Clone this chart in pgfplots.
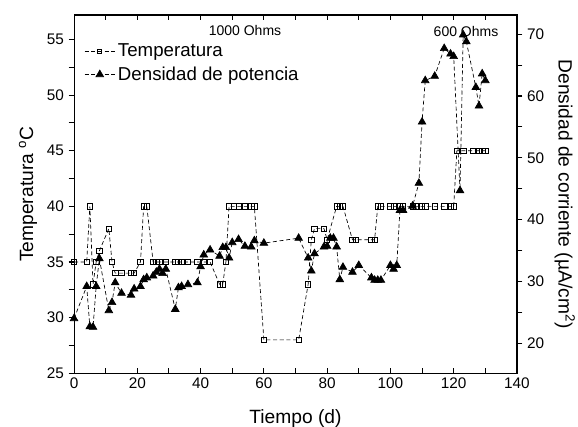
\documentclass[border=0pt]{standalone}
\usepackage{fontspec}
\setmainfont{Liberation Sans}
\usepackage{pgfplots}
\pgfplotsset{compat=1.18}

\pgfplotsset{
  base/.style={
    scale only axis, width=332pt, height=268.5pt,
    xmin=0, xmax=140,
    axis line style={line width=0.8pt},
    every tick/.style={line width=0.8pt, black},
    major tick length=4pt, minor tick length=4pt,
    /pgf/number format/assume math mode=true,
    tick label style={font=\fontsize{11.5}{13}\selectfont},
  },
  temp/.style={black, densely dashed, line width=0.5pt, mark=square,
    mark size=2pt, mark options={solid, fill=white, line width=0.5pt}},
  dens/.style={black, densely dashed, line width=0.5pt, mark=triangle*,
    mark size=3.3pt, mark options={solid, fill=black}},
}

\begin{document}
\begin{tikzpicture}
\useasboundingbox (-55.5pt,-39.75pt) rectangle (377.75pt,279.75pt);

% x ticks (inside, bottom and top)
\begin{axis}[base,
  ymin=25, ymax=57.2, ytick=\empty,
  xtick={0,20,...,140}, minor x tick num=1, tick align=inside,
  xlabel={Tiempo (d)},
  every axis x label/.style={at={(axis description cs:0.5,-0.126)}, anchor=center,
    font=\fontsize{14.4}{16}\selectfont},
]
\end{axis}

% left axis: temperature
\begin{axis}[base,
  ymin=25, ymax=57.2, xtick=\empty,
  ytick={25,30,...,55}, minor y tick num=1,
  ytick pos=left, tick align=outside,
  ylabel={Temperatura \textsuperscript{o}C},
  every axis y label/.style={at={(axis description cs:-0.104,0.5)}, rotate=90, anchor=center,
    font=\fontsize{14.4}{16}\selectfont},
]
\addplot[temp] table {
0 35
4 35
5 40
6 33
7 35
8 36
11 38
12 35
13 34
15 34
18 34
19 34
21 35
22 40
23 40
25 35
26 35
27 35
29 35
32 35
33 35
34 35
36 35
39 35
41 35
43 35
46 33
47 33
48 35
49 40
50.5 40
52 40
54 40
56 40
57 40
60 28
71 28
74 33
75 37
76 38
79 38
80 37
83 40
84 40
85 40
88 37
89 37
94 37
95 37
96 40
97 40
100 40
101 40
103 40
104 40
107 40
108 40
110 40
111 40
114 40
117 40
119 40
120 40
121 45
123 45
126 45
128 45
129 45
130 45
};
\end{axis}

% right axis: current density
\begin{axis}[base,
  ymin=15.15, ymax=73.1, xtick=\empty,
  ytick={20,30,...,70}, minor y tick num=1,
  ytick pos=right, tick align=outside,
  ylabel={Densidad de corriente (µA/cm\textsuperscript{2})},
  every axis y label/.style={at={(axis description cs:1.108,0.5)}, rotate=-90, anchor=center,
    font=\fontsize{14.4}{16}\selectfont},
  legend style={draw=none, fill=none, at={(axis description cs:0.0135,0.935)},
    anchor=north west, font=\fontsize{14}{16}\selectfont, row sep=2pt},
  legend cell align=left,
  legend image code/.code={\draw[mark repeat=2, mark phase=2, #1]
    plot coordinates {(0cm,0cm) (0.4cm,0cm) (0.8cm,0cm)};},
]
\addlegendimage{temp, mark size=1.5pt}
\addlegendentry{Temperatura}
\addplot[dens] table {
0 24
4 29.2
5 22.7
6 22.6
7 29.2
8 33.7
11 25.3
12 26.6
13 29.8
15 28.1
18 27.8
19 28.8
21 29.2
22 30.3
23 30.6
25 30.9
26 31.5
27 32.0
28 31.3
29 32.0
32 25.5
33 29.0
34 29.2
36 29.5
39 29.8
40 32.4
41 34.3
43 35.1
46 34.1
47 35.5
48 35.5
49 33.8
50 36.3
52 36.8
54 35.7
56 35.6
57 36.6
60 36.2
71 37.0
74 33.8
75 31.7
76 34.5
79 35.6
80 35.7
81 37.0
82 37.0
83 35.6
84 30.3
85 32.3
88 31.5
90 32.6
94 30.6
95 30.2
96 30.2
97 30.2
100 32.6
101 32.0
102 32.6
103 41.5
104 41.5
107 42.2
109 45.9
110 55.8
111 62.5
114 63.2
117 67.7
119 66.8
120 66.4
122 44.7
123 69.9
124 68.8
127 61.4
128 58.4
129 63.6
130 62.5
};
\addlegendentry{Densidad de potencia}
\node[font=\fontsize{10.5}{12}\selectfont] at (axis description cs:0.386,0.958) {1000 Ohms};
\node[font=\fontsize{10.5}{12}\selectfont] at (axis description cs:0.885,0.954) {600 Ohms};
\end{axis}
\end{tikzpicture}
\end{document}
